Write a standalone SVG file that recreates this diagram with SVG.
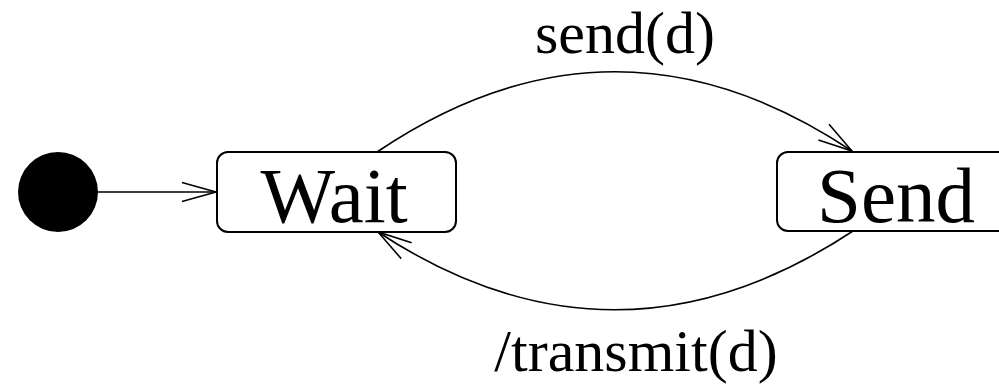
<svg xmlns="http://www.w3.org/2000/svg" width="999" height="384" viewBox="0 0 999 384">
  <style>
    .state { fill: #ffffff; stroke: #000000; stroke-width: 2; }
    .state-label { font-family: "Liberation Serif", "Times New Roman", serif; font-size: 79px; fill: #000000; text-anchor: middle; }
    .edge { fill: none; stroke: #000000; stroke-width: 1.6; marker-end: url(#open-arrow); }
    .edge-label { font-family: "Liberation Serif", "Times New Roman", serif; font-size: 60px; fill: #000000; text-anchor: middle; }
  </style>
  <defs>
    <marker id="open-arrow" markerUnits="userSpaceOnUse" markerWidth="40" markerHeight="24" refX="0" refY="0" viewBox="-36 -12 40 24" orient="auto" overflow="visible">
      <path d="M-34,-9.5 L0,0 L-34,9.5" fill="none" stroke="#000000" stroke-width="1.6"/>
    </marker>
  </defs>
  <rect width="999" height="384" fill="#ffffff"/>

  <!-- transitions -->
  <g id="connectors">
    <path class="edge" d="M98,192 L216,192"/>
    <path class="edge" d="M377,152 Q614,-8 852,151"/>
    <path class="edge" d="M853,231 Q615,388 378,232"/>
    <text class="edge-label" x="625" y="53">send(d)</text>
    <text class="edge-label" x="636" y="371">/transmit(d)</text>
  </g>

  <!-- initial pseudo-state -->
  <g id="initial">
    <circle cx="58" cy="192" r="40" fill="#000000"/>
  </g>

  <!-- states -->
  <g id="wait">
    <rect class="state" x="217" y="152" width="239" height="80" rx="11" ry="11"/>
    <text class="state-label" x="334" y="222">Wait</text>
  </g>
  <g id="send">
    <rect class="state" x="777" y="152" width="239" height="79" rx="11" ry="11"/>
    <text class="state-label" x="896" y="222">Send</text>
  </g>
</svg>
